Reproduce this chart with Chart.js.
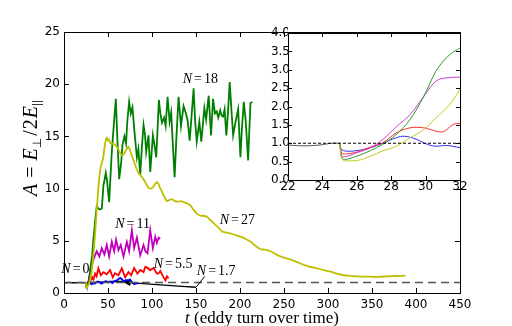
<!DOCTYPE html>
<html>
<head>
<meta charset="utf-8">
<script src="https://cdn.jsdelivr.net/npm/chart.js@4.4.0/dist/chart.umd.min.js"></script>
<style>
  body { margin: 0; background: #fff; }
  #wrap { position: relative; width: 512px; height: 326px; }
  #wrap canvas { position: absolute; left: 0; top: 0; }
</style>
</head>
<body>
<div id="wrap">
  <canvas id="main" width="512" height="326"></canvas>
  <canvas id="inset" width="512" height="326"></canvas>
</div>
<script>
// main panel: A vs t
var tBlack = [0, 3, 6, 9, 12, 15, 18, 21, 25, 40, 55, 64, 73, 90, 110, 130, 150];
var aBlack = [1.0, 0.97, 1.02, 0.98, 1.0, 0.97, 1.01, 0.98, 1.0, 1.05, 1.1, 1.12, 1.02, 0.9, 0.77, 0.66, 0.55];

var tBlue = [25, 25.3, 26, 27.5, 28.8, 30.1, 30.6, 31.2, 32, 35.3, 38, 40, 42.5, 45, 47.5, 50, 52.5, 55, 57.5, 60, 63.8, 66, 68, 70.5, 73, 75, 77.5, 80, 82.5, 84.7];
var aBlue = [1.0, 0.79, 0.8, 1.0, 1.19, 0.97, 0.92, 0.94, 0.88, 0.93, 1.1, 1.05, 0.9, 1.0, 1.15, 1.0, 1.1, 0.95, 1.15, 1.2, 1.45, 1.3, 1.1, 1.25, 1.2, 1.3, 1.0, 0.85, 0.95, 0.9];

var tRed = [25, 25.2, 26, 26.8, 27.5, 28.3, 29.1, 29.9, 30.3, 30.8, 31.1, 31.6, 32, 33.5, 35.3, 37, 39.1, 41.8, 44.8, 48.6, 52.4, 55.4, 58, 61.9, 65.7, 69.5, 73.3, 76.3, 79.7, 83.5, 86.6, 90.4, 92.3, 94.2, 98, 101.8, 105.6, 107.7, 109.4, 113.2, 115.3, 117, 118.8];
var aRed = [1.0, 0.71, 0.76, 0.9, 1.01, 1.28, 1.42, 1.42, 1.37, 1.31, 1.33, 1.51, 1.54, 1.3, 1.85, 1.6, 2.36, 1.7, 2.0, 1.8, 2.2, 1.5, 1.9, 1.7, 2.36, 1.5, 2.0, 1.7, 2.4, 1.85, 2.2, 2.0, 2.5, 2.45, 2.2, 2.4, 1.85, 1.9, 2.1, 1.5, 1.2, 1.6, 1.4];

var tMag = [25, 25.2, 26, 26.8, 27.5, 28.3, 29.1, 29.9, 30.6, 31.2, 32, 33.4, 35.3, 37.2, 40.2, 42.9, 45.9, 48.6, 51.3, 54.3, 57, 59.2, 61.9, 64.5, 67.6, 71.4, 74, 77.1, 79.7, 82.8, 86.6, 90.4, 92.5, 94.9, 98, 101, 103.7, 105.6, 107.5, 109.4];
var aMag = [1.0, 0.63, 0.74, 0.88, 1.1, 1.45, 1.78, 2.28, 2.69, 2.78, 2.8, 3.2, 3.6, 4.0, 3.5, 4.3, 3.7, 4.6, 3.5, 4.9, 4.0, 5.1, 4.1, 4.6, 3.5, 4.9, 4.0, 6.0, 4.3, 5.3, 3.6, 4.6, 4.0, 3.8, 6.0, 4.3, 5.4, 4.8, 5.3, 5.2];

var tGreen = [25, 25.3, 26, 27, 28, 29, 30, 31, 32, 33.4, 35.3, 37.2, 39, 40.6, 43, 44.8, 46, 47.5, 49, 51.3, 54.3, 56.5, 58.9, 60.5, 62.7, 65, 66.5, 68.7, 70.5, 72, 74, 75.9, 77.8, 80, 82.8, 84.5, 86.6, 88.5, 90.4, 92, 93.4, 96, 98, 101, 102.8, 104.8, 106.5, 107.8, 109.5, 111.3, 113.7, 115.5, 117.7, 120, 121.8, 123.5, 125.7, 127.8, 130.2, 132.9, 135.9, 138.6, 140.5, 142.8, 145, 147.3, 149, 150.8, 153.8, 156, 159.5, 161.5, 164.4, 167.1, 169.4, 171.5, 173.5, 175.3, 177.5, 179, 180.8, 182.5, 184.5, 186.5, 188.3, 190.3, 192.2, 194.5, 197.9, 200.5, 202, 204.3, 206.5, 209.2, 211.9, 214];
var aGreen = [1.0, 0.56, 0.65, 0.8, 1.0, 1.5, 2.3, 3.0, 3.6, 5.1, 6.8, 8.3, 8.1, 8.0, 8.1, 10.3, 10.8, 11.5, 10.7, 8.7, 13.5, 16, 18.6, 15, 10.9, 12.5, 14.2, 15.0, 14.3, 16.5, 18.3, 17.2, 17.8, 15.5, 13.0, 13.8, 11.3, 14, 16.1, 15.2, 13.5, 15.1, 11.6, 15.1, 14.2, 13.0, 16, 18.5, 17.2, 16.3, 16.8, 16.0, 18.8, 16.4, 17.3, 14.5, 11.1, 15, 18.8, 16.0, 17.9, 17.2, 16.5, 14.6, 17, 19.6, 16.5, 14.5, 16.4, 14.5, 17.7, 16.6, 18.9, 15.1, 18.6, 17.2, 17.4, 16.8, 17.5, 17.0, 16.9, 17.6, 15.1, 17.5, 20.2, 17.5, 15.1, 16.2, 17.6, 13.0, 15.5, 18.3, 16.5, 12.7, 18.2, 18.3];

var tYellow = [25, 25.4, 26, 27, 28, 29, 30, 31, 32, 34, 37.2, 39.5, 41.8, 44.4, 46.5, 48.6, 50, 51.2, 53, 55.5, 58, 60, 62, 63.8, 66, 68, 70.5, 73.3, 76, 79, 82, 84.7, 87.5, 90.4, 93, 96, 99, 101.7, 104, 106.3, 108.5, 111.3, 114, 117, 119.5, 122.7, 126, 130, 133, 135.9, 140, 143.5, 147, 151, 155, 158, 162.5, 166, 170, 175, 179.6, 184, 189, 195, 200.5, 206, 212, 218, 223.3, 228, 234.7, 240, 246, 252, 257.5, 265, 272.6, 280, 287.9, 295, 303, 310, 318, 325, 333.4, 345, 356, 367.6, 378, 388];
var aYellow = [1.0, 0.52, 0.53, 0.65, 0.8, 1.05, 1.37, 1.8, 2.46, 4.2, 7.9, 10.5, 12.1, 12.9, 14.2, 14.9, 14.6, 14.7, 14.3, 14.3, 14.2, 14.0, 13.7, 13.4, 13.2, 13.3, 13.7, 14.0, 13.4, 12.7, 12.0, 11.5, 11.2, 10.9, 10.5, 10.1, 10.0, 10.2, 10.5, 10.6, 10.2, 9.7, 9.2, 8.8, 8.9, 9.0, 8.8, 8.75, 8.8, 8.7, 8.6, 8.4, 8.0, 7.6, 7.4, 7.4, 7.3, 7.0, 6.7, 6.3, 5.9, 5.8, 5.7, 5.55, 5.4, 5.2, 4.9, 4.5, 4.2, 4.15, 4.0, 3.75, 3.5, 3.35, 3.2, 2.95, 2.7, 2.5, 2.35, 2.2, 2.05, 1.85, 1.7, 1.65, 1.6, 1.57, 1.55, 1.6, 1.63, 1.67];

var tRef = [0, 450];
var aRef = [1, 1];

// inset: zoom on 22 < t < 32
var itBlack = [22, 23, 24, 24.5, 25];
var iaBlack = [0.95, 0.93, 0.96, 1.0, 1.0];
var itBlue = [25, 25.1, 25.3, 26, 26.8, 27.5, 28.3, 28.8, 29.5, 30.1, 30.6, 31.2, 32];
var iaBlue = [1.0, 0.85, 0.79, 0.8, 0.88, 1.0, 1.15, 1.19, 1.1, 0.97, 0.92, 0.94, 0.88];
var itRed = [25, 25.1, 25.2, 26, 26.8, 27.5, 28.3, 29.1, 29.9, 30.3, 30.8, 31.1, 31.6, 32];
var iaRed = [1.0, 0.78, 0.71, 0.76, 0.9, 1.01, 1.28, 1.42, 1.42, 1.37, 1.31, 1.33, 1.51, 1.54];
var itMag = [25, 25.1, 25.2, 26, 26.8, 27.5, 28.3, 29.1, 29.9, 30.6, 31.2, 32];
var iaMag = [1.0, 0.7, 0.63, 0.74, 0.88, 1.1, 1.45, 1.78, 2.28, 2.69, 2.78, 2.8];
var itGreen = [25, 25.1, 25.3, 26, 26.8, 27.5, 28.3, 29.1, 29.9, 30.6, 31.4, 32];
var iaGreen = [1.0, 0.65, 0.56, 0.65, 0.8, 0.97, 1.24, 1.65, 2.28, 2.96, 3.41, 3.59];
var itYellow = [25, 25.1, 25.4, 26, 26.8, 27.5, 28.3, 29.1, 29.9, 30.6, 31.4, 32];
var iaYellow = [1.0, 0.6, 0.52, 0.53, 0.65, 0.79, 0.92, 1.15, 1.37, 1.69, 2.05, 2.46];
var itRef = [22, 32];
var iaRef = [1, 1];

// curve labels: text and where they sit in data units
var labelText = ['0', '1.7', '5.5', '11', '18', '27'];
var labelT = [13, 173, 124, 78, 155, 197];
var labelA = [2.3, 2.1, 2.7, 6.6, 20.5, 7.0];

function pts(t, a) {
  var out = [];
  for (var i = 0; i < t.length; i++) out.push({x: t[i], y: a[i]});
  return out;
}

function line(t, a, color, width, extra) {
  var ds = {data: pts(t, a), borderColor: color, borderWidth: width, pointRadius: 0, fill: false, tension: 0};
  for (var k in extra) ds[k] = extra[k];
  return ds;
}

// frame with ticks pointing inwards on all four sides
function frameTicks(len) {
  return {
    id: 'frameTicks',
    afterDatasetsDraw: function(chart) {
      var c = chart.ctx, a = chart.chartArea, sx = chart.scales.x, sy = chart.scales.y;
      c.save();
      c.strokeStyle = '#000';
      c.lineWidth = 1;
      c.beginPath();
      sx.ticks.forEach(function(tk) {
        var px = Math.round(sx.getPixelForValue(tk.value)) + 0.5;
        c.moveTo(px, a.bottom); c.lineTo(px, a.bottom - len);
        c.moveTo(px, a.top); c.lineTo(px, a.top + len);
      });
      sy.ticks.forEach(function(tk) {
        var py = Math.round(sy.getPixelForValue(tk.value)) + 0.5;
        c.moveTo(a.left, py); c.lineTo(a.left + len, py);
        c.moveTo(a.right, py); c.lineTo(a.right - len, py);
      });
      c.stroke();
      c.strokeRect(Math.round(a.left) + 0.5, Math.round(a.top) + 0.5, Math.round(a.right - a.left), Math.round(a.bottom - a.top));
      c.restore();
    }
  };
}

var whiteBox = {
  id: 'whiteBox',
  beforeDatasetsDraw: function(chart) {
    var a = chart.chartArea;
    chart.ctx.save();
    chart.ctx.fillStyle = '#fff';
    chart.ctx.fillRect(a.left, a.top, a.right - a.left, a.bottom - a.top);
    chart.ctx.restore();
  }
};

// axis titles and curve labels
var mainText = {
  id: 'mainText',
  afterDraw: function(chart) {
    var c = chart.ctx, sx = chart.scales.x, sy = chart.scales.y;
    c.save();
    c.fillStyle = '#000';
    c.textBaseline = 'middle';
    for (var i = 0; i < labelText.length; i++) {
      var x = sx.getPixelForValue(labelT[i]), y = sy.getPixelForValue(labelA[i]);
      c.font = 'italic 14px "Liberation Serif"';
      var w1 = c.measureText('N').width;
      c.font = '14px "Liberation Serif"';
      var w2 = c.measureText('=').width, w3 = c.measureText(labelText[i]).width;
      var tot = w1 + 2 + w2 + 2 + w3, x0 = x - tot / 2;
      c.font = 'italic 14px "Liberation Serif"';
      c.fillText('N', x0, y);
      c.font = '14px "Liberation Serif"';
      c.fillText('=', x0 + w1 + 2, y);
      c.fillText(labelText[i], x0 + w1 + w2 + 4, y);
    }
    // pointer from N=1.7 to the end of the black line
    c.strokeStyle = '#000';
    c.lineWidth = 1;
    c.beginPath();
    c.moveTo(sx.getPixelForValue(150), sy.getPixelForValue(0.55));
    c.lineTo(sx.getPixelForValue(160), sy.getPixelForValue(1.6));
    c.stroke();

    // x title
    c.textAlign = 'left';
    c.textBaseline = 'alphabetic';
    c.font = 'italic 17px "Liberation Serif"';
    var wt = c.measureText('t').width;
    c.font = '17px "Liberation Serif"';
    var rest = ' (eddy turn over time)';
    var wr = c.measureText(rest).width;
    var xs = (chart.chartArea.left + chart.chartArea.right) / 2 - (wt + wr) / 2;
    c.font = 'italic 17px "Liberation Serif"';
    c.fillText('t', xs, 323);
    c.font = '17px "Liberation Serif"';
    c.fillText(rest, xs + wt, 323);

    // y title, rotated
    c.translate(37, 148);
    c.rotate(-Math.PI / 2);
    var parts = [
      ['A', 'italic 20px "Liberation Serif"', 0, 6],
      ['=', '20px "Liberation Serif"', 0, 6],
      ['E', 'italic 20px "Liberation Serif"', 0, 0],
      ['\u22A5', '12px "DejaVu Sans"', 4, 2],
      ['/', '20px "Liberation Serif"', 0, 1],
      ['2', '20px "Liberation Serif"', 0, 1],
      ['E', 'italic 20px "Liberation Serif"', 0, 1]
    ];
    var total = 5;
    parts.forEach(function(p) { c.font = p[1]; total += c.measureText(p[0]).width + p[3]; });
    var px = -total / 2;
    parts.forEach(function(p) {
      c.font = p[1];
      c.fillText(p[0], px, p[2]);
      px += c.measureText(p[0]).width + p[3];
    });
    // subscript parallel sign
    c.lineWidth = 0.8;
    c.beginPath();
    c.moveTo(px + 0.5, -5); c.lineTo(px + 0.5, 6);
    c.moveTo(px + 3.5, -5); c.lineTo(px + 3.5, 6);
    c.stroke();
    c.restore();
  }
};

var tickFont = {family: '"DejaVu Sans"', size: 12};

new Chart(document.getElementById('main'), {
  type: 'line',
  data: {
    datasets: [
      line(tRef, aRef, '#555555', 1.5, {borderDash: [8, 5]}),
      line(tYellow, aYellow, '#bfbf00', 1.8, {tension: 0.2}),
      line(tGreen, aGreen, '#007f00', 1.8),
      line(tMag, aMag, '#bf00bf', 1.8),
      line(tRed, aRed, '#ff0000', 1.8),
      line(tBlue, aBlue, '#0000ff', 1.8),
      line(tBlack, aBlack, '#000000', 1.3),
      {data: [{x: 73, y: 1.02}], pointRadius: 3.5, pointStyle: 'triangle', rotation: -90,
       pointBackgroundColor: '#000', pointBorderColor: '#000', showLine: false}
    ]
  },
  options: {
    responsive: false,
    animation: false,
    devicePixelRatio: 1,
    layout: {padding: {left: 0, right: 52, top: 32, bottom: 0}},
    plugins: {legend: {display: false}, tooltip: {enabled: false}},
    scales: {
      x: {
        type: 'linear', min: 0, max: 450,
        ticks: {stepSize: 50, color: '#000', font: tickFont, padding: 5, maxRotation: 0},
        grid: {display: false, drawTicks: false},
        border: {display: false},
        afterFit: function(s) { s.height = 33; }
      },
      y: {
        type: 'linear', min: 0, max: 25,
        ticks: {stepSize: 5, color: '#000', font: tickFont, padding: 4},
        grid: {display: false, drawTicks: false},
        border: {display: false},
        afterFit: function(s) { s.width = 64; }
      }
    }
  },
  plugins: [frameTicks(5), mainText]
});

new Chart(document.getElementById('inset'), {
  type: 'line',
  data: {
    datasets: [
      line(itRef, iaRef, '#000000', 1, {borderDash: [3, 2]}),
      line(itBlack, iaBlack, '#555555', 1, {tension: 0.4}),
      line(itYellow, iaYellow, '#c8c820', 1, {cubicInterpolationMode: 'monotone'}),
      line(itGreen, iaGreen, '#2a9a2a', 1, {cubicInterpolationMode: 'monotone'}),
      line(itMag, iaMag, '#d040d0', 1, {cubicInterpolationMode: 'monotone'}),
      line(itRed, iaRed, '#ff3030', 1, {tension: 0.4}),
      line(itBlue, iaBlue, '#3030ff', 1, {tension: 0.4})
    ]
  },
  options: {
    responsive: false,
    animation: false,
    devicePixelRatio: 1,
    layout: {padding: {left: 248, right: 52, top: 33, bottom: 126}},
    plugins: {legend: {display: false}, tooltip: {enabled: false}},
    scales: {
      x: {
        type: 'linear', min: 22, max: 32,
        ticks: {stepSize: 2, color: '#000', font: tickFont, padding: 0, maxRotation: 0},
        grid: {display: false, drawTicks: false},
        border: {display: false},
        afterFit: function(s) { s.height = 20; }
      },
      y: {
        type: 'linear', min: 0, max: 4,
        ticks: {stepSize: 0.5, color: '#000', font: tickFont, padding: -2,
                callback: function(v) { return v.toFixed(1); }},
        grid: {display: false, drawTicks: false},
        border: {display: false},
        afterFit: function(s) { s.width = 40; }
      }
    }
  },
  plugins: [whiteBox, frameTicks(4)]
});
</script>
</body>
</html>
